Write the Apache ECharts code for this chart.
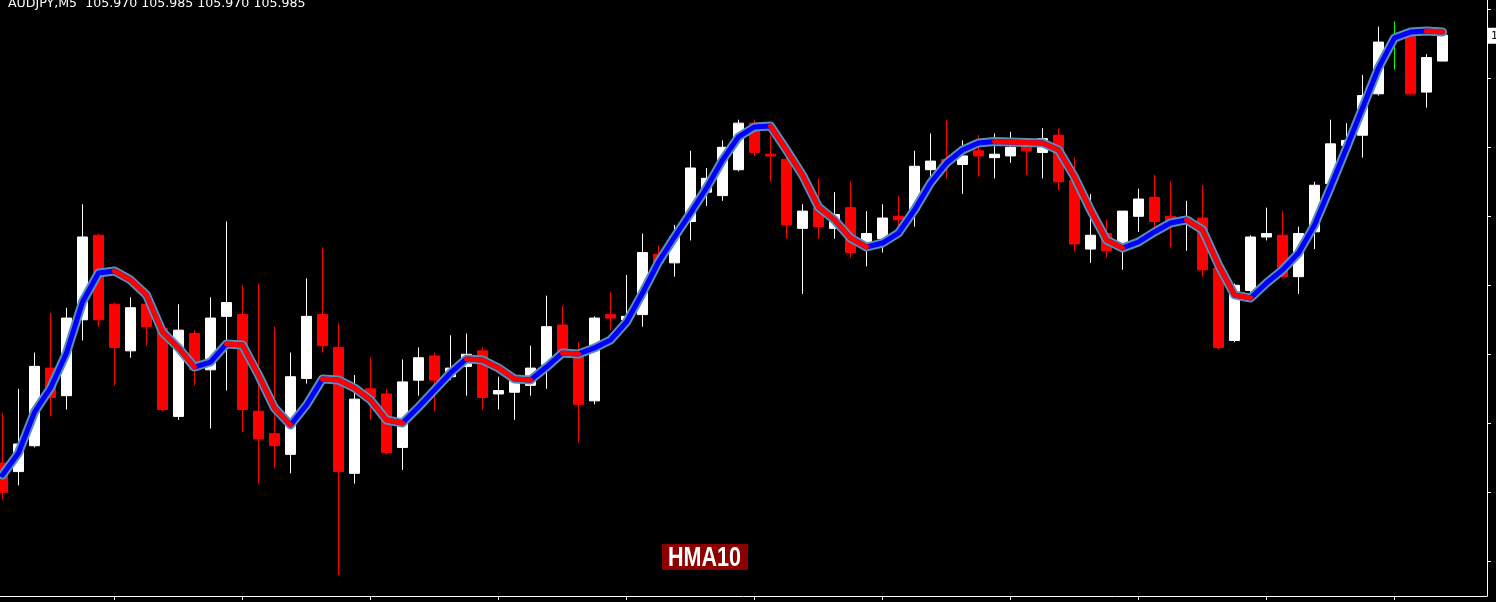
<!DOCTYPE html>
<html>
<head>
<meta charset="utf-8">
<script src="https://cdn.jsdelivr.net/npm/echarts@6/dist/echarts.min.js"></script>
<style>
html,body{margin:0;padding:0;background:#000;overflow:hidden}
#c{width:1496px;height:602px}
</style>
</head>
<body>
<div id="c"></div>
<script>
// ---- data ----
const titleText = 'AUDJPY,M5  105.970 105.985 105.970 105.985';
const indicatorName = 'HMA10';
const lastPrice = 105.985;

const opens = [105.737,105.732,105.747,105.792,105.776,105.820,105.869,105.829,105.802,105.829,
 105.815,105.764,105.812,105.791,105.822,105.823,105.767,105.754,105.742,105.786,
 105.823,105.804,105.731,105.780,105.777,105.746,105.785,105.799,105.787,105.793,
 105.802,105.777,105.778,105.782,105.794,105.817,105.801,105.773,105.823,105.820,
 105.823,105.858,105.853,105.877,105.894,105.892,105.907,105.934,105.916,105.913,
 105.873,105.885,105.873,105.885,105.862,105.867,105.880,105.884,105.907,105.913,
 105.910,105.918,105.914,105.915,105.921,105.917,105.927,105.901,105.861,105.870,
 105.863,105.880,105.891,105.880,105.877,105.879,105.850,105.808,105.837,105.868,
 105.869,105.845,105.871,105.899,105.921,105.927,105.951,105.983,105.985,105.952,
 105.970];
const closes = [105.720,105.748,105.793,105.775,105.821,105.868,105.820,105.804,105.827,105.816,
 105.768,105.814,105.791,105.821,105.830,105.768,105.751,105.747,105.787,105.822,
 105.805,105.732,105.774,105.775,105.743,105.784,105.798,105.785,105.792,105.800,
 105.775,105.779,105.785,105.792,105.816,105.801,105.771,105.821,105.821,105.822,
 105.859,105.853,105.868,105.908,105.902,105.920,105.934,105.917,105.915,105.875,
 105.883,105.874,105.881,105.859,105.870,105.879,105.878,105.909,105.912,105.911,
 105.915,105.915,105.916,105.920,105.918,105.925,105.900,105.864,105.869,105.860,
 105.883,105.890,105.877,105.875,105.879,105.849,105.804,105.840,105.868,105.870,
 105.845,105.870,105.898,105.922,105.924,105.950,105.981,105.983,105.951,105.972,
 105.985];
const lows = [105.716,105.724,105.746,105.764,105.768,105.808,105.816,105.782,105.798,105.805,
 105.767,105.762,105.782,105.757,105.779,105.755,105.725,105.734,105.731,105.783,
 105.801,105.672,105.725,105.762,105.742,105.733,105.776,105.767,105.785,105.776,
 105.768,105.768,105.762,105.776,105.780,105.797,105.749,105.771,105.814,105.819,
 105.816,105.852,105.845,105.866,105.886,105.889,105.906,105.915,105.900,105.867,
 105.835,105.867,105.867,105.856,105.851,105.859,105.873,105.874,105.895,105.902,
 105.893,105.903,105.902,105.911,105.904,105.902,105.895,105.860,105.853,105.856,
 105.849,105.871,105.873,105.862,105.860,105.845,105.803,105.807,105.832,105.866,
 105.844,105.835,105.861,105.895,105.918,105.914,105.950,105.965,105.950,105.943,
 105.970];
const highs = [105.766,105.780,105.801,105.824,105.827,105.887,105.870,105.830,105.833,105.838,
 105.817,105.829,105.814,105.833,105.877,105.840,105.841,105.816,105.801,105.844,
 105.862,105.818,105.788,105.798,105.780,105.797,105.804,105.801,105.811,105.812,
 105.804,105.787,105.786,105.805,105.834,105.828,105.807,105.822,105.836,105.846,
 105.870,105.863,105.875,105.918,105.908,105.924,105.936,105.936,105.927,105.918,
 105.887,105.902,105.894,105.900,105.883,105.887,105.892,105.918,105.928,105.936,
 105.924,105.927,105.928,105.929,105.924,105.931,105.931,105.914,105.893,105.878,
 105.883,105.896,105.904,105.900,105.889,105.898,105.853,105.841,105.869,105.885,
 105.883,105.874,105.900,105.936,105.934,105.962,105.990,105.993,105.988,105.974,
 105.985];
const hma = [105.7300,105.7428,105.7665,105.7805,105.8008,105.8303,105.8471,105.8483,105.8431,105.8344,
 105.8129,105.8037,105.7926,105.7955,105.8060,105.8054,105.7880,105.7689,105.7590,105.7706,
 105.7857,105.7851,105.7805,105.7735,105.7619,105.7602,105.7694,105.7793,105.7892,105.7973,
 105.7967,105.7921,105.7857,105.7851,105.7926,105.8008,105.8002,105.8037,105.8083,105.8187,
 105.8355,105.8535,105.8680,105.8819,105.8964,105.9126,105.9260,105.9318,105.9323,105.9184,
 105.9039,105.8854,105.8779,105.8674,105.8622,105.8645,105.8703,105.8837,105.8993,105.9109,
 105.9184,105.9225,105.9234,105.9231,105.9228,105.9225,105.9184,105.9028,105.8837,105.8663,
 105.8616,105.8651,105.8709,105.8761,105.8779,105.8721,105.8518,105.8344,105.8326,105.8413,
 105.8489,105.8587,105.8750,105.8970,105.9196,105.9428,105.9660,105.9834,105.9868,105.9874,
 105.9868];
const priceTicks = [105.680,105.720,105.760,105.800,105.840,105.880,105.920,105.960,106.000];
const timeTicks = [7,15,23,31,39,47,55,63,71,79,87];

// ---- build ----
const candleData = opens.map((o, i) => [i, o, closes[i], lows[i], highs[i]]);
const hmaData = hma.map((v, i) => [i, v]);
const redData = [];
for (let i = 0; i < hma.length; i++) {
  const fallIn = i > 0 && hma[i] < hma[i - 1];
  const fallOut = i < hma.length - 1 && hma[i + 1] < hma[i];
  if (fallIn || fallOut) {
    if (!fallIn && redData.length) redData.push([i - 0.5, '-']);
    redData.push([i, hma[i]]);
  }
}

const chart = echarts.init(document.getElementById('c'), null, {renderer: 'canvas'});
chart.setOption({
  backgroundColor: '#000000',
  animation: false,
  grid: {left: 0, right: 9, top: 0, bottom: 6, containLabel: false, outerBoundsMode: 'none'},
  xAxis: {
    type: 'value', min: -0.15625, max: 92.78125,
    axisLine: {show: true, onZero: false, lineStyle: {color: '#ffffff', width: 1}},
    axisTick: {show: true, customValues: timeTicks, length: 4, lineStyle: {color: '#ffffff'}},
    axisLabel: {show: false},
    splitLine: {show: false}
  },
  yAxis: {
    type: 'value', position: 'right', min: 105.65988, max: 106.00539,
    axisLine: {show: true, onZero: false, lineStyle: {color: '#ffffff', width: 1}},
    axisTick: {show: true, customValues: priceTicks, length: 4, lineStyle: {color: '#ffffff'}},
    axisLabel: {show: true, customValues: priceTicks, formatter: v => v.toFixed(3), color: '#ffffff',
      fontSize: 11, fontFamily: 'DejaVu Sans', margin: 8},
    splitLine: {show: false}
  },
  series: [
    {
      type: 'candlestick', data: candleData, encode: {x: 0, y: [1, 2, 3, 4]},
      barWidth: 10, z: 2,
      itemStyle: {color: '#ffffff', color0: '#ff0000', borderColor: '#ffffff', borderColor0: '#ff0000',
        borderColorDoji: '#00ff00', borderWidth: 1},
      markLine: {
        silent: true, symbol: 'none', animation: false, z: 20,
        data: [{yAxis: lastPrice}],
        lineStyle: {color: 'rgba(0,0,0,0)', width: 0, opacity: 1},
        label: {show: true, position: 'end', distance: 1, formatter: lastPrice.toFixed(3), opacity: 1,
          offset: [0, -8],
          backgroundColor: '#ffffff', color: '#000000', fontSize: 11, fontFamily: 'DejaVu Sans',
          padding: [3, 4, 2, 3]}
      }
    },
    {type: 'line', data: hmaData, showSymbol: false, silent: true, z: 3,
      lineStyle: {color: '#5b8fb5', width: 9, join: 'round', cap: 'round'}},
    {type: 'line', data: hmaData, showSymbol: false, silent: true, z: 4,
      lineStyle: {color: '#0000ff', width: 5, join: 'round', cap: 'round'}},
    {type: 'line', data: redData, showSymbol: false, silent: true, z: 5, connectNulls: false,
      lineStyle: {color: '#ff0000', width: 5, join: 'round', cap: 'round'}}
  ],
  graphic: [
    {type: 'text', x: 8, y: -3, z: 10, silent: true,
      style: {text: titleText, fill: '#ffffff', font: '12.6px "DejaVu Sans"', textVerticalAlign: 'top'}},
    {type: 'group', x: 662, y: 544, z: 10, silent: true, children: [
      {type: 'rect', shape: {x: 0, y: 0, width: 86, height: 26}, style: {fill: '#8b0000'}},
      {type: 'text', x: 6, y: 14, scaleX: 0.77,
        style: {text: indicatorName, fill: '#ffffff', font: 'bold 28px "Liberation Sans"',
          textAlign: 'left', textVerticalAlign: 'middle'}}
    ]}
  ]
});
</script>
</body>
</html>
